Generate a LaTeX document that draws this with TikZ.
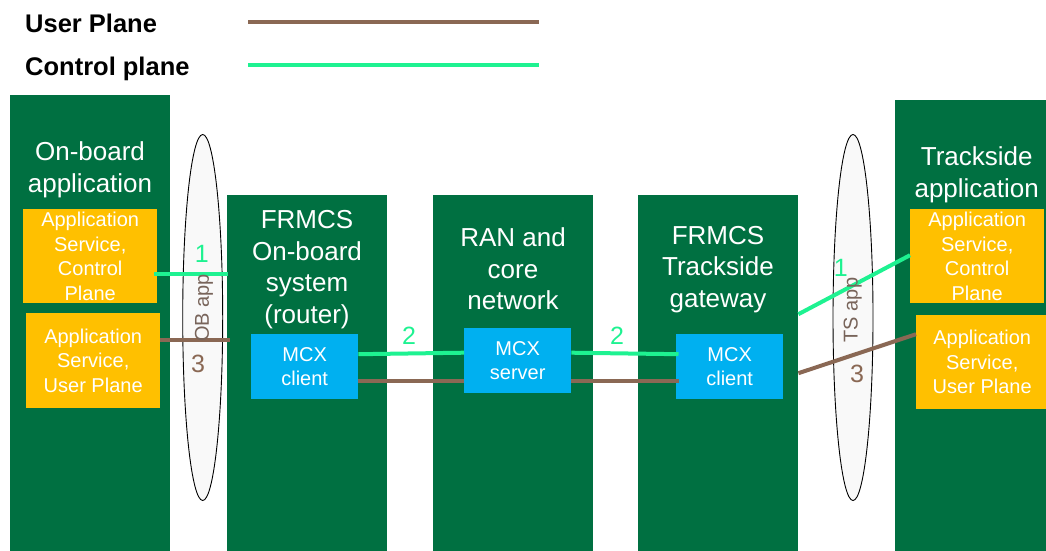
\documentclass[tikz,border=0pt]{standalone}
\usepackage{fontspec}
\setmainfont{Liberation Sans}
\usetikzlibrary{shapes.geometric,calc}
\definecolor{railgreen}{RGB}{0,112,65}
\definecolor{appyellow}{RGB}{255,192,0}
\definecolor{mcxblue}{RGB}{0,176,240}
\definecolor{upbrown}{RGB}{138,104,84}
\definecolor{cpgreen}{RGB}{30,242,145}
\definecolor{ringfill}{RGB}{249,249,249}
\definecolor{ringtext}{RGB}{120,100,90}
\newcommand\myfs[2]{\fontsize{#1}{#2}\selectfont}
\begin{document}
\begin{tikzpicture}[x=1pt,y=-1pt,
  block/.style={fill=railgreen, draw=none, anchor=north west, inner sep=0pt},
  title/.style={text=white, align=center, inner sep=0pt, font=\myfs{26}{31.7}},
  appbox/.style={fill=appyellow, draw=none, anchor=north west, inner sep=0pt,
    minimum height=94pt, text=white, align=center, font=\myfs{20}{24.5}},
  mcxbox/.style={fill=mcxblue, draw=none, anchor=north west, inner sep=0pt,
    minimum width=107pt, minimum height=65pt, text=white, align=center,
    font=\myfs{20}{23.5}},
  ring/.style={ellipse, fill=ringfill, draw=black, line width=0.9pt, inner sep=0pt,
    minimum width=40pt, minimum height=366pt},
  ringlabel/.style={rotate=90, text=ringtext, inner sep=0pt, font=\myfs{20}{24}},
  up/.style={draw=upbrown, line width=4pt},
  cp/.style={draw=cpgreen, line width=4pt},
  num/.style={inner sep=0pt, font=\myfs{25}{30}},
  legend/.style={anchor=base west, inner sep=0pt, font=\bfseries\myfs{25.5}{30}}
]
\useasboundingbox (0,0) rectangle (1046,551);

% legend
\node[legend] (lup) at (25,33) {User Plane};
\node[legend] (lcp) at (25,75) {Control plane};
\coordinate (lupa) at (248,22);
\coordinate (lupb) at (539,22);
\coordinate (lcpa) at (248,65);
\coordinate (lcpb) at (539,65);
\draw[up] (lupa) -- (lupb);
\draw[cp] (lcpa) -- (lcpb);

% green columns
\node[block, minimum width=160pt, minimum height=456pt] (ob) at (10,95) {};
\node[block, minimum width=160pt, minimum height=356pt] (frmcs) at (227,195) {};
\node[block, minimum width=160pt, minimum height=356pt] (ran) at (433,195) {};
\node[block, minimum width=160pt, minimum height=356pt] (gw) at (638,195) {};
\node[block, minimum width=151pt, minimum height=451pt] (ts) at (895,100) {};

% column titles
\node[title] (obt) at (90,170) {On-board\\application};
\node[title] (frmcst) at (307,269.5) {FRMCS\\On-board\\system\\(router)};
\node[title] (rant) at (513,269) {RAN and\\core\\network};
\node[title] (gwt) at (718,269.5) {FRMCS\\Trackside\\gateway};
\node[title] (tst) at (976.7,175) {Trackside\\application};

% application service boxes
\node[appbox, minimum width=134pt] (acp) at (23,209) {Application\\Service,\\Control\\Plane};
\node[appbox, minimum width=134pt, minimum height=95pt] (aup) at (26,313) {Application\\Service,\\User Plane};
\node[appbox, minimum width=134pt] (tcp) at (910,209) {Application\\Service,\\Control\\Plane};
\node[appbox, minimum width=132pt] (tup) at (916,315) {Application\\Service,\\User Plane};

% MCX boxes
\node[mcxbox] (mcx1) at (251,334) {MCX\\client};
\node[mcxbox] (mcxs) at (464,328) {MCX\\server};
\node[mcxbox] (mcx2) at (676,334) {MCX\\client};

% application interfaces
\node[ring] (obring) at (202.7,317.5) {};
\node[ring] (tsring) at (853,317.5) {};

% connectors
\draw[cp] ($(acp.east)+(-3,17.5)$) -- ($(acp.east -| frmcs.west)+(1,17.5)$);
\draw[up] ($(aup.east)+(0,-20.5)$) -- ($(aup.east -| frmcs.west)+(3,-20.5)$);
\draw[cp] ($(mcx1.east)+(0,-12.5)$) -- ($(mcxs.west)+(0,-8)$);
\draw[up] ($(mcx1.east)+(0,14.5)$) -- ($(mcxs.west)+(0,20.5)$);
\draw[cp] ($(mcxs.east)+(0,-8)$) -- ($(mcx2.west)+(2.5,-12.5)$);
\draw[up] ($(mcxs.east)+(0,20.5)$) -- ($(mcx2.west)+(2.5,14.5)$);
\draw[cp] ($(gw.east)+(0,-59)$) -- ($(tcp.west)+(0,-1)$);
\draw[up] (gw.east) -- ($(tup.west)+(0,-28)$);

% interface labels
\node[ringlabel] (obl) at (204,308) {OB app};
\node[ringlabel] (tsl) at (852.7,310) {TS app};
\node[num, text=cpgreen] (n1a) at (201.7,253.5) {1};
\node[num, text=upbrown] (n3a) at (198,364) {3};
\node[num, text=cpgreen] (n2a) at (409,336) {2};
\node[num, text=cpgreen] (n2b) at (617,336) {2};
\node[num, text=cpgreen] (n1b) at (840.7,267.5) {1};
\node[num, text=upbrown] (n3b) at (857,374) {3};
\end{tikzpicture}
\end{document}
